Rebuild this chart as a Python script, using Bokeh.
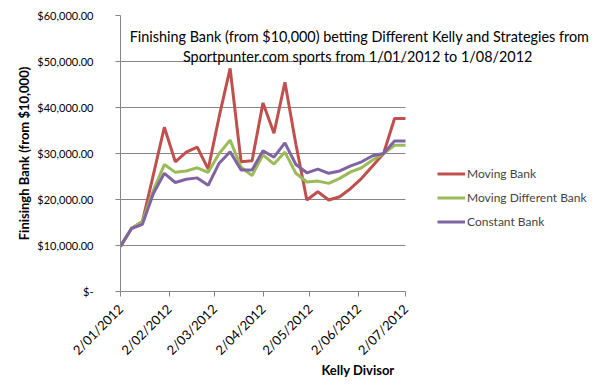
import datetime as dt
import math
from bokeh.plotting import figure
from bokeh.models import (Range1d, FixedTicker, CustomJSTickFormatter, Legend, LegendItem,
                          Label, BoxAnnotation)
from bokeh.embed import file_html
from bokeh.resources import INLINE

dates = ["2012-01-02", "2012-01-09", "2012-01-16", "2012-01-23", "2012-01-30",
         "2012-02-06", "2012-02-13", "2012-02-20", "2012-02-27",
         "2012-03-05", "2012-03-12", "2012-03-19", "2012-03-26",
         "2012-04-02", "2012-04-09", "2012-04-16", "2012-04-23", "2012-04-30",
         "2012-05-07", "2012-05-14", "2012-05-21", "2012-05-28",
         "2012-06-04", "2012-06-11", "2012-06-18", "2012-06-25", "2012-07-02"]

moving_bank = [9800, 13700, 15200, 25400, 35700, 28200, 30300, 31400, 26600,
               38000, 48500, 28200, 28400, 41000, 34400, 45500, 32000, 19900,
               21700, 19900, 20600, 22400, 24600, 27300, 30000, 37600, 37600]
moving_diff_bank = [9800, 13700, 15200, 22000, 27600, 25900, 26200, 26900, 25900,
                    30000, 32900, 27000, 25200, 29700, 27700, 30300, 25700, 23800,
                    24000, 23500, 24600, 26000, 26900, 28600, 30000, 31800, 31800]
constant_bank = [9800, 13700, 14600, 21300, 25700, 23700, 24400, 24700, 23100,
                 27900, 30400, 26400, 26400, 30600, 29200, 32300, 27600, 25800,
                 26600, 25700, 26200, 27300, 28200, 29500, 30000, 32700, 32700]

tick_dates = ["2012-01-02", "2012-02-02", "2012-03-02", "2012-04-02",
              "2012-05-02", "2012-06-02", "2012-07-02"]
tick_labels = ["2/01/2012", "2/02/2012", "2/03/2012", "2/04/2012",
               "2/05/2012", "2/06/2012", "2/07/2012"]
y_ticks = [0, 10000, 20000, 30000, 40000, 50000, 60000]

series_names = ["Moving Bank", "Moving Different Bank", "Constant Bank"]
series_colors = ["#C0504D", "#9BBB59", "#8064A2"]
title_lines = ["Finishing Bank (from $10,000) betting Different Kelly and Strategies from",
               "Sportpunter.com  sports from 1/01/2012 to 1/08/2012"]

FONT = "Lato"
GRID = "#868686"

# layout (pixels)
W, H = 595, 383
LEFT, TOP = 120, 15
AXIS_W, FRAME_H = 285, 276     # width of the dated part of the plot, plot height


def to_ms(s):
    d = dt.datetime.strptime(s, "%Y-%m-%d")
    return (d - dt.datetime(1970, 1, 1)).total_seconds() * 1000.0


xs = [dt.datetime.strptime(s, "%Y-%m-%d") for s in dates]
tick_ms = [to_ms(s) for s in tick_dates]

frame_w = W - LEFT
x_start, x_end_axis = tick_ms[0], tick_ms[-1]
x_end = x_start + (x_end_axis - x_start) * frame_w / AXIS_W

p = figure(width=W, height=H, x_axis_type="datetime",
           output_backend="svg", toolbar_location=None,
           min_border_left=LEFT, min_border_right=0,
           min_border_top=TOP, min_border_bottom=H - TOP - FRAME_H)
p.x_range = Range1d(x_start, x_end)
p.y_range = Range1d(0, 60000)
p.outline_line_color = None
p.background_fill_color = "white"
p.border_fill_color = "white"

renderers = []
for vals, col in zip([moving_bank, moving_diff_bank, constant_bank], series_colors):
    r = p.line(xs, vals, line_color=col, line_width=3)
    renderers.append(r)

# hide the grid beyond the last date (chart area to the right)
p.add_layout(BoxAnnotation(left=x_end_axis, fill_color="white", fill_alpha=1,
                           line_color=None, level="underlay"))

# axes
p.xaxis.ticker = FixedTicker(ticks=tick_ms)
p.xaxis.bounds = (x_start, x_end_axis)
p.xaxis.major_label_overrides = {t: l for t, l in zip(tick_ms, tick_labels)}
p.xaxis.major_label_orientation = math.pi / 4
p.yaxis.ticker = FixedTicker(ticks=y_ticks)
p.yaxis.formatter = CustomJSTickFormatter(code="""
if (tick == 0) { return "$-"; }
return "$" + tick.toLocaleString('en-US', {minimumFractionDigits: 2, maximumFractionDigits: 2});
""")
for ax in [p.xaxis[0], p.yaxis[0]]:
    ax.axis_line_color = GRID
    ax.major_tick_line_color = GRID
    ax.major_tick_out = 5
    ax.major_tick_in = 0
    ax.minor_tick_line_color = None
    ax.major_label_text_font = FONT
    ax.major_label_text_color = "black"
    ax.axis_label_text_font = FONT
    ax.axis_label_text_font_style = "bold"
    ax.axis_label_text_font_size = "13px"
    ax.axis_label_text_color = "black"
p.yaxis.major_label_text_font_size = "11px"
p.xaxis.major_label_text_font_size = "13px"
p.yaxis.major_label_standoff = 22
p.xaxis.major_label_standoff = 10
p.xaxis.axis_label = "Kelly Divisor"
p.yaxis.axis_label = "Finisingh Bank (from $10,000)"
p.yaxis.axis_label_standoff = 2
p.xaxis.axis_label_standoff = -4

p.xgrid.grid_line_color = None
p.ygrid.grid_line_color = GRID
p.ygrid.grid_line_width = 1

# legend
items = [LegendItem(label=n, renderers=[r]) for n, r in zip(series_names, renderers)]
legend = Legend(items=items, location=(317, 61), orientation="vertical",
                label_text_font=FONT, label_text_font_size="12px",
                glyph_width=28, glyph_height=17, label_height=17, label_standoff=2,
                spacing=7, padding=0, margin=0,
                border_line_color=None, background_fill_alpha=0)
p.add_layout(legend, "center")

# chart title, drawn inside the chart area
for i, txt in enumerate(title_lines):
    p.add_layout(Label(x=239, y=255 - 20 * i, x_units="screen", y_units="screen",
                       text=txt, text_font=FONT, text_font_size="14.4px",
                       text_align="center", text_baseline="alphabetic",
                       text_color="black", level="overlay"))

open("out.html", "w").write(file_html(p, INLINE))
